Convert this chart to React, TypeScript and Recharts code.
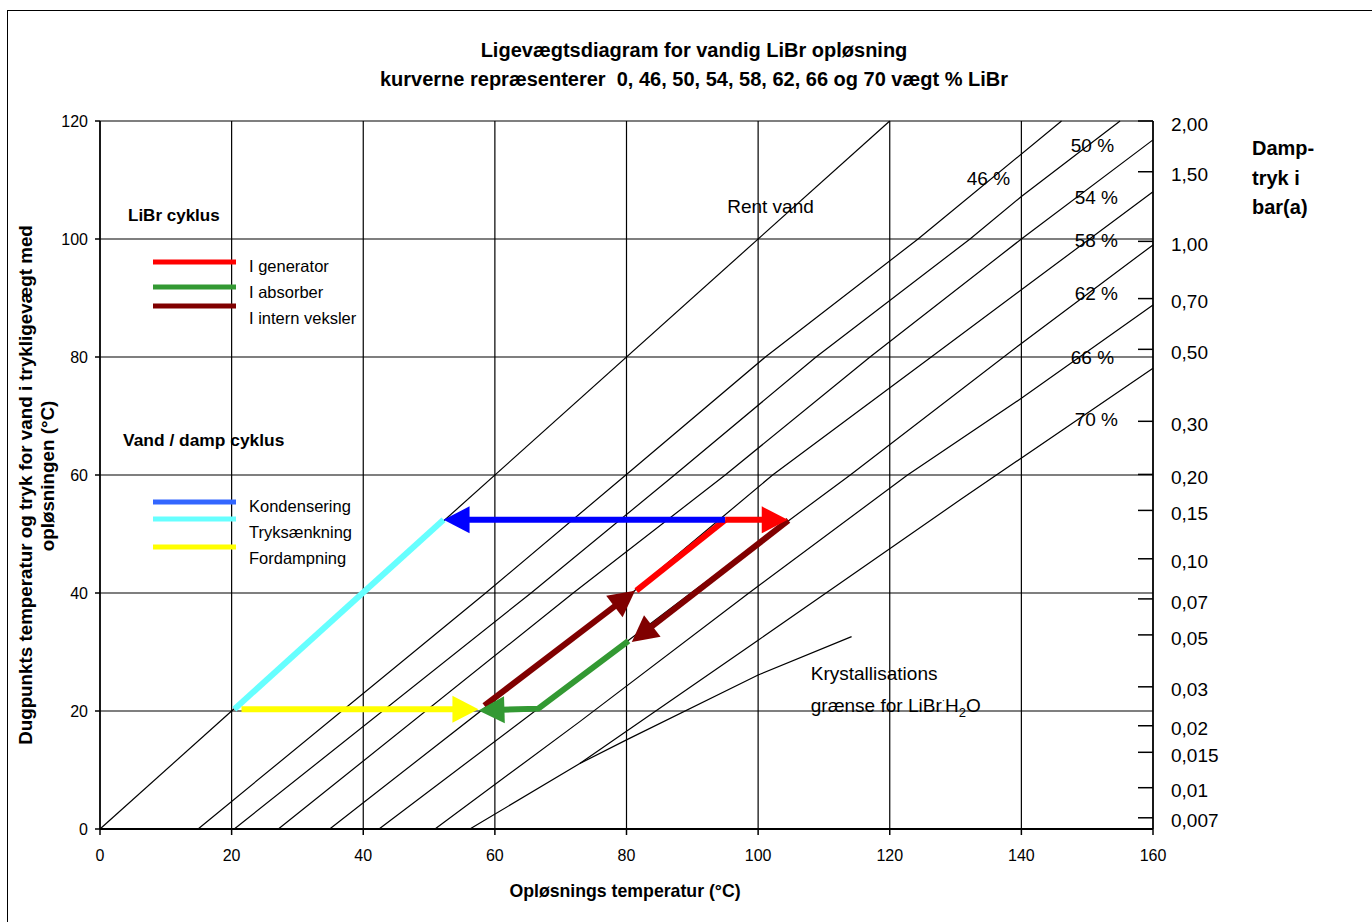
import React from 'react';
import { ComposedChart, Line, XAxis, YAxis, CartesianGrid, ReferenceDot } from 'recharts';

const FONT = '"Liberation Sans", Arial, Helvetica, sans-serif';

// axes
const xTicks = [0, 20, 40, 60, 80, 100, 120, 140, 160];
const yTicks = [0, 20, 40, 60, 80, 100, 120];

// right axis: vapour pressure in bar(a) and the matching dew point (°C)
const pressureLabels = ['2,00', '1,50', '1,00', '0,70', '0,50', '0,30', '0,20', '0,15', '0,10', '0,07', '0,05', '0,03', '0,02', '0,015', '0,01', '0,007'];
const pressureTemps = [120, 111.4, 99.6, 89.9, 81.3, 69.1, 60.1, 54.0, 45.8, 39.0, 32.9, 24.1, 17.5, 13.0, 7.0, 1.9];

// equilibrium lines: [solution temperature, dew point]
const curve0 = [[0, 0], [120, 120]];
const curve46 = [[14.9, 0], [58.6, 40], [79.9, 60], [101.1, 80], [124.3, 100], [146.1, 120]];
const curve50 = [[20.4, 0], [65.5, 40], [87.3, 60], [108.8, 80], [132.2, 100], [140, 107.2], [155, 120]];
const curve54 = [[27.1, 0], [71.9, 40], [95, 60], [117, 80], [140, 100], [160, 116.8]];
const curve58 = [[34.9, 0], [80.8, 40], [102.2, 60], [126.3, 80], [140, 91.4], [160, 108]];
const curve62 = [[42.4, 0], [89.8, 40], [114, 60], [140, 82.3], [160, 99]];
const curve66 = [[50.9, 0], [72.9, 18.2], [98.6, 40], [122.7, 60], [140, 73], [160, 88.8]];
const curve70 = [[56.2, 0], [72.9, 11.1], [100, 32], [130.7, 55.8], [160, 78.1]];
const crystalLine = [[72.9, 11.1], [80, 15.1], [100, 26.1], [114.2, 32.6]];

// cycle paths
const cyanPath = [[20.4, 20.3], [52.2, 52.4]];
const redDiag = [[81.5, 40.4], [95, 52.4]];
const bluePath = [[95, 52.4], [52.2, 52.4]];
const redHoriz = [[95, 52.4], [104.5, 52.4]];
const greenPath = [[80.3, 31.9], [66.6, 20.4], [57.5, 20.1]];
const darkRedDown = [[104.6, 52.3], [80.8, 31.7]];
const darkRedUp = [[58.4, 20.9], [81.3, 40.4]];
const yellowPath = [[21.5, 20.3], [57.5, 20.3]];

const librLegend = [
  { label: 'I generator', color: '#ff0000' },
  { label: 'I absorber', color: '#339933' },
  { label: 'I intern veksler', color: '#800000' },
];
const vandLegend = [
  { label: 'Kondensering', color: '#3366ff' },
  { label: 'Tryksænkning', color: '#66ffff' },
  { label: 'Fordampning', color: '#ffff00' },
];

const W = 1372;
const H = 922;
const PX_X = 1053 / 160;
const PX_Y = 708 / 120;
const HEAD_LEN = 26;
const HEAD_HALF = 13.5;

const toPts = (pairs: number[][]) => pairs.map(([x, y]) => ({ x, y }));

const curves = [curve0, curve46, curve50, curve54, curve58, curve62, curve66, curve70];

const segments = [
  { id: 'cyan', pts: cyanPath, color: '#66ffff', head: false },
  { id: 'redDiag', pts: redDiag, color: '#ff0000', head: false },
  { id: 'blue', pts: bluePath, color: '#0000ff', head: true },
  { id: 'redHoriz', pts: redHoriz, color: '#ff0000', head: true },
  { id: 'green', pts: greenPath, color: '#339933', head: true },
  { id: 'darkDown', pts: darkRedDown, color: '#800000', head: true },
  { id: 'darkUp', pts: darkRedUp, color: '#800000', head: true },
  { id: 'yellow', pts: yellowPath, color: '#ffff00', head: true },
];

const annotations = [
  { text: 'Rent vand', x: 95.3, y: 105.6 },
  { text: '46 %', x: 131.7, y: 110.3 },
  { text: '50 %', x: 147.5, y: 115.8 },
  { text: '54 %', x: 148.1, y: 107.1 },
  { text: '58 %', x: 148.1, y: 99.8 },
  { text: '62 %', x: 148.1, y: 90.8 },
  { text: '66 %', x: 147.5, y: 80 },
  { text: '70 %', x: 148.1, y: 69.5 },
  { text: 'Krystallisations', x: 108, y: 26.4 },
  { text: 'LiBrH2O', x: 108, y: 21 },
];

function pathLength(pairs: number[][]) {
  let len = 0;
  for (let i = 1; i < pairs.length; i++) {
    len += Math.hypot((pairs[i][0] - pairs[i - 1][0]) * PX_X, (pairs[i][1] - pairs[i - 1][1]) * PX_Y);
  }
  return len;
}

function arrowHead(pairs: number[][], color: string) {
  return (props: any) => {
    const { cx, cy, index } = props;
    if (index !== pairs.length - 1 || cx == null) return <g key={`d${index}`} />;
    const dx = (pairs[index][0] - pairs[index - 1][0]) * PX_X;
    const dy = -(pairs[index][1] - pairs[index - 1][1]) * PX_Y;
    const d = Math.hypot(dx, dy);
    const ux = dx / d;
    const uy = dy / d;
    const bx = cx - ux * HEAD_LEN;
    const by = cy - uy * HEAD_LEN;
    const pts = `${cx},${cy} ${bx - uy * HEAD_HALF},${by + ux * HEAD_HALF} ${bx + uy * HEAD_HALF},${by - ux * HEAD_HALF}`;
    return <polygon key={`d${index}`} points={pts} fill={color} />;
  };
}

const PressureTick = (props: any) => {
  const { x, y, payload } = props;
  const i = pressureTemps.indexOf(payload.value);
  return (
    <g>
      <line x1={x - 15} x2={x} y1={y} y2={y} stroke="#000" strokeWidth={1.5} />
      <text x={x + 18} y={y + 3} dy="0.35em" fontSize={19} fontFamily={FONT} fill="#000">
        {pressureLabels[i]}
      </text>
    </g>
  );
};

const annotationLabel = (text: string) => (props: any) => {
  const vb = props.viewBox || {};
  if (text === 'LiBrH2O') {
    return (
      <text x={vb.x} y={vb.y} dy="0.35em" fontSize={19} fontFamily={FONT} fill="#000">
        grænse for LiBr<tspan fontSize={10} dy="-8">·</tspan>
        <tspan dy="8">H</tspan>
        <tspan fontSize={13} dy="5">2</tspan>
        <tspan dy="-5">O</tspan>
      </text>
    );
  }
  return (
    <text x={vb.x} y={vb.y} dy="0.35em" fontSize={19} fontFamily={FONT} fill="#000">
      {text}
    </text>
  );
};

export default function App() {
  const tickStyle = { fontSize: 16, fill: '#000', fontFamily: FONT };
  return (
    <div style={{ position: 'absolute', left: 0, top: 0, width: W, height: H, overflow: 'hidden', background: '#fff' }}>
      <div style={{ position: 'absolute', left: 7, top: 10, width: W + 40, height: H + 40, border: '1.5px solid #000' }} />
      <div style={{ position: 'absolute', left: 0, top: 0 }}>
        <ComposedChart width={W} height={H} margin={{ top: 121, right: 119, bottom: 53, left: 40 }}>
          <CartesianGrid stroke="#000" strokeWidth={1.2} horizontalValues={yTicks} verticalValues={xTicks} />
          <XAxis
            dataKey="x"
            type="number"
            domain={[0, 160]}
            ticks={xTicks}
            interval={0}
            height={40}
            tickSize={6}
            tickMargin={15}
            tick={tickStyle}
            tickLine={{ stroke: '#000', strokeWidth: 1.5 }}
            axisLine={{ stroke: '#000', strokeWidth: 2 }}
          />
          <YAxis
            type="number"
            domain={[0, 120]}
            ticks={yTicks}
            interval={0}
            width={60}
            tickSize={5}
            tickMargin={7}
            tick={tickStyle}
            tickLine={{ stroke: '#000', strokeWidth: 1.5 }}
            axisLine={{ stroke: '#000', strokeWidth: 1.5 }}
          />
          <YAxis
            yAxisId="right"
            orientation="right"
            type="number"
            domain={[0, 120]}
            ticks={pressureTemps}
            interval={0}
            width={100}
            tickSize={0}
            tickMargin={0}
            tickLine={false}
            tick={(p: any) => <PressureTick {...p} />}
            axisLine={{ stroke: '#000', strokeWidth: 1.5 }}
          />
          {curves.map((c, i) => (
            <Line
              key={`curve${i}`}
              data={toPts(c)}
              dataKey="y"
              type="linear"
              stroke="#000"
              strokeWidth={1.2}
              dot={false}
              activeDot={false}
              isAnimationActive={false}
            />
          ))}
          {/* crystallisation limit, read against the same temperature scale on the right axis */}
          <Line
            yAxisId="right"
            data={toPts(crystalLine)}
            dataKey="y"
            type="linear"
            stroke="#000"
            strokeWidth={1.2}
            dot={false}
            activeDot={false}
            isAnimationActive={false}
          />
          {segments.map(s => (
            <Line
              key={s.id}
              data={toPts(s.pts)}
              dataKey="y"
              type="linear"
              stroke={s.color}
              strokeWidth={6}
              strokeDasharray={s.head ? `${pathLength(s.pts) - HEAD_LEN + 3} 10000` : undefined}
              dot={s.head ? arrowHead(s.pts, s.color) : false}
              activeDot={false}
              isAnimationActive={false}
            />
          ))}
          {annotations.map(a => (
            <ReferenceDot
              key={a.text}
              x={a.x}
              y={a.y}
              r={0}
              fill="none"
              stroke="none"
              label={{ content: annotationLabel(a.text) }}
            />
          ))}
        </ComposedChart>
      </div>
      <svg width={W} height={H} style={{ position: 'absolute', left: 0, top: 0, pointerEvents: 'none' }} fontFamily={FONT}>
        <text x={694} y={50} dy="0.35em" textAnchor="middle" fontSize={20} fontWeight="bold">
          Ligevægtsdiagram for vandig LiBr opløsning
        </text>
        <text x={694} y={79} dy="0.35em" textAnchor="middle" fontSize={20} fontWeight="bold" xmlSpace="preserve">
          kurverne repræsenterer  0, 46, 50, 54, 58, 62, 66 og 70 vægt % LiBr
        </text>
        <text x={625} y={891} dy="0.35em" textAnchor="middle" fontSize={17.7} fontWeight="bold">
          Opløsnings temperatur (°C)
        </text>
        <text x={25} y={485} dy="0.35em" textAnchor="middle" fontSize={18.8} fontWeight="bold" transform="rotate(-90 25 485)">
          Dugpunkts temperatur og tryk for vand i trykligevægt med
        </text>
        <text x={47} y={476} dy="0.35em" textAnchor="middle" fontSize={18.8} fontWeight="bold" transform="rotate(-90 47 476)">
          opløsningen (°C)
        </text>
        {['Damp-', 'tryk i', 'bar(a)'].map((t, i) => (
          <text key={t} x={1252} y={148 + i * 29.5} dy="0.35em" fontSize={20} fontWeight="bold">
            {t}
          </text>
        ))}
        <text x={128} y={215} dy="0.35em" fontSize={17} fontWeight="bold">LiBr cyklus</text>
        {librLegend.map((l, i) => (
          <g key={l.label}>
            <line x1={153} x2={236} y1={[262, 287, 306][i]} y2={[262, 287, 306][i]} stroke={l.color} strokeWidth={5} />
            <text x={249} y={[266, 292, 318][i]} dy="0.35em" fontSize={16.5}>{l.label}</text>
          </g>
        ))}
        <text x={123} y={440} dy="0.35em" fontSize={17.4} fontWeight="bold">Vand / damp cyklus</text>
        {vandLegend.map((l, i) => (
          <g key={l.label}>
            <line x1={153} x2={236} y1={[502, 519, 547][i]} y2={[502, 519, 547][i]} stroke={l.color} strokeWidth={5} />
            <text x={249} y={[506, 532, 558][i]} dy="0.35em" fontSize={16.5}>{l.label}</text>
          </g>
        ))}
      </svg>
    </div>
  );
}
